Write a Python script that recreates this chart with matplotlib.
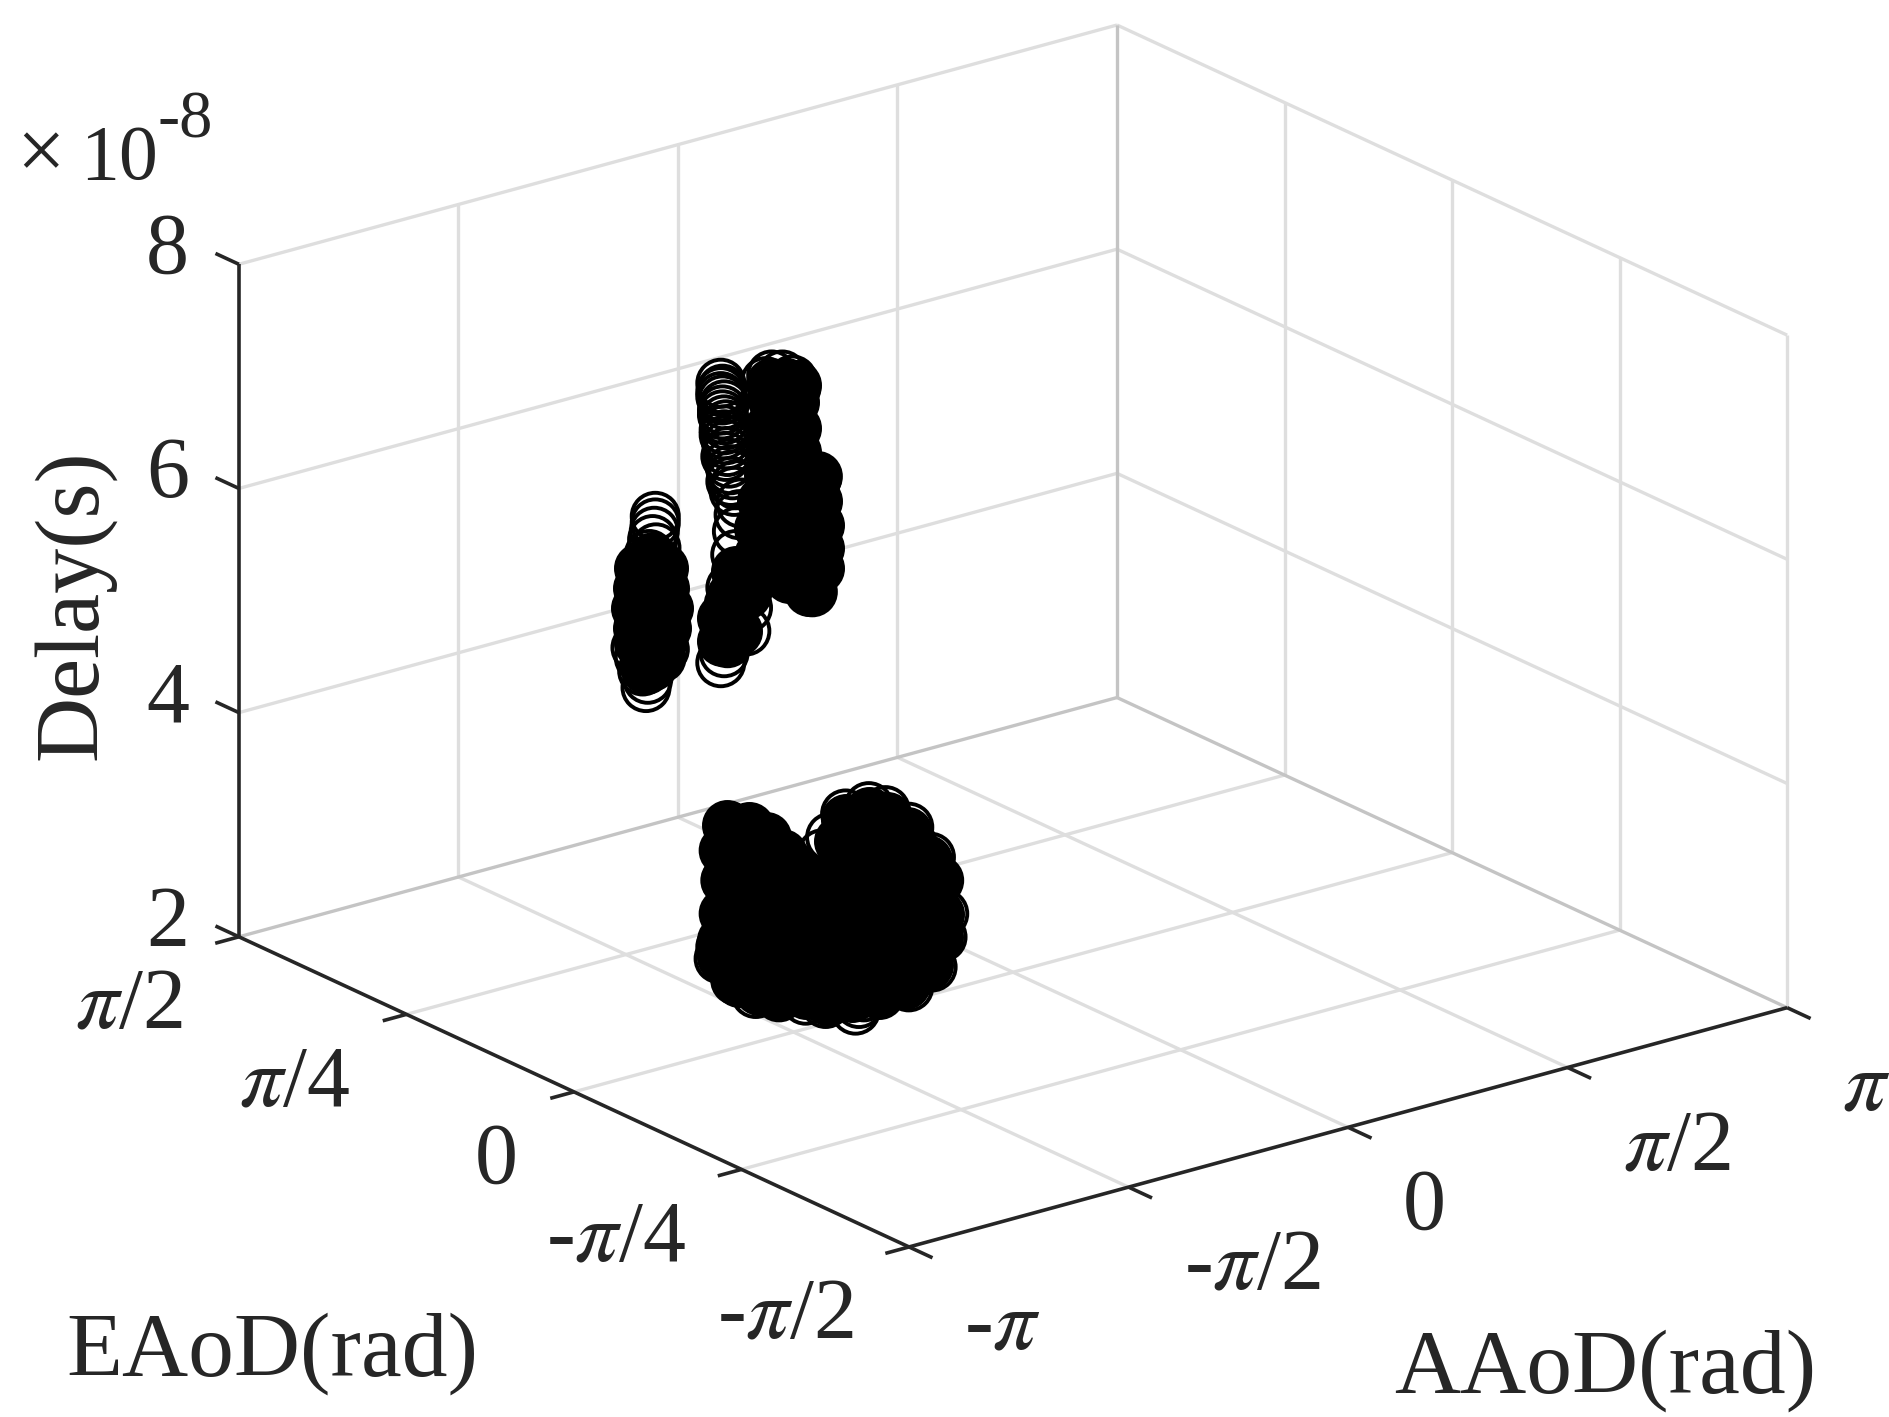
import numpy as np
import matplotlib
matplotlib.use("Agg")
import matplotlib.pyplot as plt
from mpl_toolkits.mplot3d import proj3d

plt.rcParams["font.family"] = ["Liberation Serif", "DejaVu Sans"]
plt.rcParams["mathtext.fontset"] = "stix"

W, H = 1890, 1417
DARK = "#262626"
GRID = "#dedede"
EDGE = "#c4c4c4"

# tick values and labels
aaod_ticks = [-np.pi, -np.pi / 2, 0, np.pi / 2, np.pi]
aaod_labels = [r"-$\pi$", r"-$\pi$/2", "0", r"$\pi$/2", r"$\pi$"]
eaod_ticks = [-np.pi / 2, -np.pi / 4, 0, np.pi / 4, np.pi / 2]
eaod_labels = [r"-$\pi$/2", r"-$\pi$/4", "0", r"$\pi$/4", r"$\pi$/2"]
delay_ticks = [2, 4, 6, 8]
delay_labels = ["2", "4", "6", "8"]

# rings visible around the clusters (delay in units of 1e-8 s, EAoD taken as 0)
ring_aaod = [
    -2.043, -2.067, -2.055, -2.067, -2.091, -2.103, -1.984, -1.841, -1.674, -1.484,
    -1.341, -1.127, -1.103, -1.067, -0.746, -0.579, -0.508, -0.496, -0.532, -0.591,
    -0.746, -0.913, -1.032, -1.198, -1.305, -1.365, -1.770, -1.603,
    -2.560, -2.560, -2.567, -2.579, -2.555, -2.603, -2.579, -2.626, -2.614, -2.650,
    -2.579, -2.519, -2.674, -2.495, -2.698,
    -2.091, -2.091, -2.079, -2.079, -2.067, -2.067, -2.055, -2.043, -2.031, -2.008,
    -1.984, -1.948, -1.960, -1.972, -1.984, -2.019, -2.031, -1.900, -2.031, -2.091,
    -2.067, -2.043,
    -1.727, -1.651, -1.579, -1.555, -1.770, -1.436, -1.400,
    -2.079, -2.091, -2.067, -2.079, -2.055, -2.067, -2.043, -2.055, -2.019, -2.019,
    -1.996, -1.912,
]
ring_delay = [
    4.003, 3.788, 3.517, 3.225, 2.936, 2.836, 2.603, 2.436, 2.349, 2.255,
    2.177, 2.045, 2.096, 2.143, 2.123, 2.244, 2.487, 2.691, 3.000, 3.227,
    3.547, 3.752, 3.828, 3.819, 3.648, 3.520, 3.747, 3.512,
    6.937, 6.878, 6.806, 6.736, 6.654, 6.611, 6.573, 5.432, 5.502, 5.588,
    5.609, 5.662, 5.715, 5.729, 5.812,
    7.965, 7.890, 7.812, 7.723, 7.630, 7.541, 7.448, 7.340, 7.232, 7.120,
    7.023, 6.848, 6.748, 6.604, 6.400, 6.116, 5.971, 5.897, 5.764, 5.472,
    5.553, 5.634,
    7.915, 7.889, 7.820, 7.738, 7.870, 5.882, 6.899,
    7.908, 7.846, 7.764, 7.679, 7.582, 7.497, 7.400, 7.300, 7.169, 7.065,
    6.968, 5.694,
]

# dense cores of the clusters, where the rings merge into solid black
core_aaod = [
    -1.912, -1.674, -1.436, -1.198, -0.960, -0.722,
    -1.912, -1.674, -1.436, -1.198, -0.960, -0.722,
    -1.912, -1.674, -1.436, -1.198, -0.960, -0.722,
    -1.912, -1.674, -1.436, -1.198, -0.960, -0.722,
    -1.912, -1.151, -0.960, -0.770,
    -2.043, -2.055, -2.055, -2.055, -2.067, -1.972, -1.817, -1.484, -1.317,
    -0.913, -1.079, -0.722, -0.627, -0.591, -0.603, -0.722, -1.698, -1.246,
    -1.889, -1.770, -1.651, -1.555, -0.556, -0.527, -0.537, -0.608, -0.770, -0.901,
    -1.032, -1.198, -0.758, -0.615, -2.084, -2.084, -1.960, -1.674, -1.151, -0.960,
    -1.329,
    -2.674, -2.507, -2.686, -2.495, -2.698, -2.472, -2.686, -2.484, -2.674, -2.519,
    -2.591, -2.591, -2.626, -2.543, -2.626, -2.567,
    -2.019, -2.055, -2.008, -1.984, -1.912, -1.972, -2.079, -2.079,
    -1.722, -1.567, -1.734, -1.555, -1.734, -1.555, -1.413, -1.603, -1.746, -1.401,
    -1.793, -1.603, -1.389, -1.817, -1.389, -1.603, -1.817, -1.389, -1.603, -1.873,
    -1.460, -1.627, -1.555, -1.734,
]
core_delay = [
    3.469, 3.388, 3.307, 3.226, 3.145, 3.064,
    3.172, 3.091, 3.010, 2.929, 2.848, 2.768,
    2.875, 2.794, 2.714, 2.633, 2.552, 2.471,
    2.638, 2.557, 2.476, 2.395, 2.314, 2.233,
    3.706, 3.447, 3.382, 3.318,
    4.003, 3.784, 3.517, 3.221, 2.936, 2.628, 2.457, 2.314, 2.258,
    3.633, 3.705, 3.391, 3.032, 2.723, 2.430, 2.219, 3.574, 3.598,
    3.935, 3.806, 3.617, 3.436, 3.008, 2.701, 2.497, 2.269, 2.161, 3.689,
    3.778, 3.775, 3.507, 3.206, 2.993, 2.845, 2.580, 2.364, 2.171, 2.136,
    2.202,
    6.516, 6.459, 6.342, 6.277, 6.168, 6.091, 5.986, 5.917, 5.849, 5.796,
    6.399, 6.043, 5.654, 5.671, 5.595, 6.554,
    5.849, 5.653, 6.052, 6.252, 6.020, 5.714, 5.869, 5.661,
    7.706, 7.623, 7.472, 7.382, 7.235, 7.174, 6.888, 6.924, 7.031, 6.677,
    6.810, 6.627, 6.465, 6.581, 6.257, 6.330, 6.344, 6.079, 6.063, 6.131,
    5.896, 7.807, 7.768, 7.843,
]
ring_eaod = [0.0] * len(ring_aaod)
core_eaod = [0.0] * len(core_aaod)

fig = plt.figure(figsize=(W / 100, H / 100), dpi=100)

# square axes, larger than the figure, centred on the middle of the box
side = 2000
cx, cy = 986, H - 663
ax = fig.add_axes(
    [(cx - side / 2) / W, (cy - side / 2) / H, side / W, side / H],
    projection="3d",
    proj_type="ortho",
    computed_zorder=False,
)
ax.set_box_aspect((920, 915, 598), zoom=0.8343)
ax.view_init(elev=20.8, azim=-127.5)
xmin, xmax = -np.pi, np.pi
ymin, ymax = -np.pi / 2, np.pi / 2
zmin, zmax = 2, 8
ax.set_xlim(xmin, xmax)
ax.set_ylim(ymin, ymax)
ax.set_zlim(zmin, zmax)
ax.set_axis_off()
ax.patch.set_alpha(0)


def seg(x, y, z, color, lw, zorder=1):
    ax.plot(x, y, z, color=color, lw=lw, zorder=zorder, solid_capstyle="butt")


# grid on floor and the two back walls
for t in aaod_ticks[1:-1]:
    seg([t, t], [ymin, ymax], [zmin, zmin], GRID, 2.4)
    seg([t, t], [ymax, ymax], [zmin, zmax], GRID, 2.4)
for t in eaod_ticks[1:-1]:
    seg([xmin, xmax], [t, t], [zmin, zmin], GRID, 2.4)
    seg([xmax, xmax], [t, t], [zmin, zmax], GRID, 2.4)
for t in delay_ticks[1:-1]:
    seg([xmin, xmax], [ymax, ymax], [t, t], GRID, 2.4)
    seg([xmax, xmax], [ymin, ymax], [t, t], GRID, 2.4)

# box edges
seg([xmin, xmax], [ymax, ymax], [zmax, zmax], GRID, 2.4)
seg([xmax, xmax], [ymin, ymax], [zmax, zmax], GRID, 2.4)
seg([xmax, xmax], [ymin, ymin], [zmin, zmax], GRID, 2.4)
seg([xmax, xmax], [ymax, ymax], [zmin, zmax], EDGE, 2.4)
seg([xmin, xmax], [ymax, ymax], [zmin, zmin], EDGE, 2.4)
seg([xmax, xmax], [ymin, ymax], [zmin, zmin], EDGE, 2.4)

# the three drawn axes
seg([xmin, xmax], [ymin, ymin], [zmin, zmin], DARK, 2.6, 2)
seg([xmin, xmin], [ymin, ymax], [zmin, zmin], DARK, 2.6, 2)
seg([xmin, xmin], [ymax, ymax], [zmin, zmax], DARK, 2.6, 2)

# tick marks
tick_x = 0.027 * (xmax - xmin)
tick_y = 0.035 * (ymax - ymin)
for t in aaod_ticks:
    seg([t, t], [ymin, ymin - tick_y], [zmin, zmin], DARK, 2.6, 2)
for t in eaod_ticks:
    seg([xmin, xmin - tick_x], [t, t], [zmin, zmin], DARK, 2.6, 2)
for t in delay_ticks:
    seg([xmin, xmin], [ymax, ymax + tick_y], [t, t], DARK, 2.6, 2)

ax.scatter(core_aaod, core_eaod, core_delay, s=1150, facecolors="k", edgecolors="k",
           linewidths=2.8, depthshade=False, zorder=3)
ax.scatter(ring_aaod, ring_eaod, ring_delay, s=1150, facecolors="none", edgecolors="k",
           linewidths=2.8, depthshade=False, zorder=4)


def tick_text(x, y, z, label, dx, dy, ha):
    px, py, _ = proj3d.proj_transform(x, y, z, ax.get_proj())
    ax.annotate(label, xy=(px, py), xytext=(dx, dy), textcoords="offset pixels",
                ha=ha, va="center", fontsize=62, color=DARK, annotation_clip=False)


for t, lab in zip(aaod_ticks, aaod_labels):
    tick_text(t, ymin, zmin, lab, 55, -81, "left")
for t, lab in zip(eaod_ticks, eaod_labels):
    tick_text(xmin, t, zmin, lab, -56, -70, "right")
for t, lab in zip(delay_ticks, delay_labels):
    tick_text(xmin, ymax, t, lab, -50, 12, "right")

fig.text(272 / W, 1 - 1354 / H, "EAoD(rad)", ha="center", va="center", fontsize=66, color=DARK)
fig.text(1605 / W, 1 - 1371 / H, "AAoD(rad)", ha="center", va="center", fontsize=66, color=DARK)
fig.text(74 / W, 1 - 605 / H, "Delay(s)", rotation=90, ha="center", va="center", fontsize=65, color=DARK)
fig.text(16 / W, 1 - 179 / H, "×", ha="left", va="baseline", fontsize=62, color=DARK)
fig.text(80 / W, 1 - 179 / H, "10", ha="left", va="baseline", fontsize=56, color=DARK)
fig.text(158 / W, 1 - 138 / H, "-8", ha="left", va="baseline", fontsize=48, color=DARK)

fig.savefig("out.png", dpi=100)
